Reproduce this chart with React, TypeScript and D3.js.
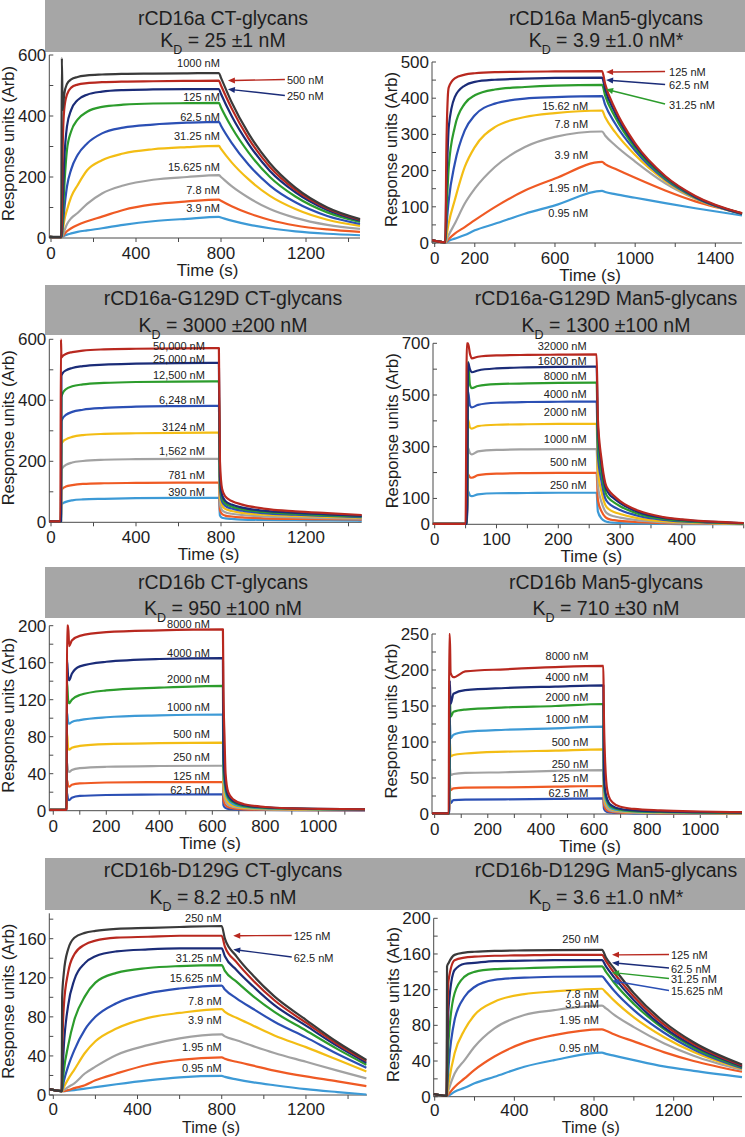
import React from 'react';
import * as d3 from 'd3';

const FONT = '"Liberation Sans", Arial, Helvetica, sans-serif';

// ---------- rCD16a CT-glycans
const p1Title = 'rCD16a CT-glycans';
const p1Kd = ' = 25 ±1 nM';
const p1Conc = ['1000 nM', '500 nM', '250 nM', '125 nM', '62.5 nM', '31.25 nM', '15.625 nM', '7.8 nM', '3.9 nM'];
const p1Off = 790;
const p1Time = [-8, 48, 51, 55, 62, 75, 95, 125, 170, 240, 340, 480, 640, 790, 800, 850, 930, 1030, 1150, 1300, 1454];
const p1Resp = [
  [4, 4, 590, 420, 470, 505, 520, 528, 533, 536, 538, 539, 540, 541, 525, 445, 342, 245, 165, 100, 62],
  [4, 3, 60, 300, 420, 470, 493, 503, 508, 511, 513, 514, 515, 516, 500, 425, 326, 233, 158, 97, 60],
  [4, 3, 20, 120, 250, 365, 420, 452, 470, 480, 485, 487, 488, 488, 472, 400, 308, 220, 150, 92, 57],
  [4, 3, 10, 60, 160, 288, 350, 388, 414, 430, 437, 441, 442, 443, 428, 363, 280, 200, 136, 84, 53],
  [4, 3, 5, 35, 90, 168, 225, 272, 310, 343, 362, 372, 378, 381, 368, 312, 240, 172, 117, 72, 46],
  [4, 3, 3, 20, 55, 91, 135, 173, 222, 255, 277, 291, 298, 302, 292, 248, 192, 138, 95, 60, 40],
  [4, 3, 3, 8, 22, 45, 65, 82, 112, 146, 172, 191, 200, 206, 200, 170, 132, 95, 66, 43, 30],
  [4, 3, 3, 5, 12, 22, 32, 43, 55, 70, 92, 110, 120, 126, 122, 104, 81, 59, 41, 28, 20],
  [4, 3, 3, 4, 7, 11, 15, 20, 25, 32, 43, 55, 63, 69, 67, 57, 44, 32, 22, 14, 9],
];
const p1XLabels = [0, 400, 800, 1200];
const p1YLabels = [0, 200, 400, 600];

// ---------- rCD16a Man5-glycans
const p2Title = 'rCD16a Man5-glycans';
const p2Kd = ' = 3.9 ±1.0 nM*';
const p2Conc = ['125 nM', '62.5 nM', '31.25 nM', '15.62 nM', '7.8 nM', '3.9 nM', '1.95 nM', '0.95 nM'];
const p2Off = 835;
const p2Time = [-13, 50, 53, 58, 65, 70, 100, 150, 200, 300, 450, 600, 835, 850, 900, 1000, 1150, 1300, 1533];
const p2Resp = [
  [8, 2, 2, 250, 400, 430, 455, 465, 469, 472, 473, 474, 475, 440, 370, 275, 185, 130, 82],
  [8, 2, 2, 150, 260, 320, 403, 435, 445, 451, 454, 456, 457, 425, 360, 270, 183, 128, 81],
  [8, 2, 2, 80, 160, 210, 320, 385, 408, 424, 431, 435, 437, 408, 348, 263, 180, 127, 81],
  [8, 2, 2, 40, 90, 118, 219, 311, 353, 385, 399, 403, 406, 382, 330, 255, 176, 125, 80],
  [8, 2, 2, 15, 40, 55, 118, 210, 265, 320, 348, 359, 366, 348, 306, 243, 172, 123, 80],
  [8, 2, 2, 6, 16, 22, 53, 109, 150, 210, 265, 293, 308, 297, 270, 225, 165, 122, 80],
  [8, 2, 2, 3, 8, 11, 26, 44, 63, 99, 145, 178, 224, 218, 205, 180, 145, 115, 83],
  [8, 2, 2, 2, 4, 6, 12, 22, 35, 53, 81, 104, 144, 141, 135, 125, 110, 96, 76],
];
const p2XLabels = [0, 200, 600, 1000, 1400];
const p2YLabels = [0, 100, 200, 300, 400, 500];

// ---------- rCD16a-G129D CT-glycans
const p3Title = 'rCD16a-G129D CT-glycans';
const p3Kd = ' = 3000 ±200 nM';
const p3Conc = ['50,000 nM', '25,000 nM', '12,500 nM', '6,248 nM', '3124 nM', '1,562 nM', '781 nM', '390 nM'];
const p3Off = 790;
const p3Time = [-8, 44, 47, 49, 55, 70, 100, 150, 250, 400, 600, 790, 795, 805, 820, 850, 900, 1000, 1150, 1300, 1462];
const p3Resp = [
  [3, 3, 600, 540, 545, 552, 558, 563, 567, 569, 570, 571, 200, 110, 85, 70, 58, 45, 36, 30, 24],
  [3, 3, 3, 480, 489, 498, 506, 512, 517, 520, 522, 523, 150, 90, 70, 58, 48, 38, 31, 26, 21],
  [3, 3, 3, 410, 423, 436, 446, 452, 457, 460, 461, 462, 130, 80, 62, 52, 43, 34, 28, 23, 19],
  [3, 3, 3, 330, 341, 352, 362, 369, 375, 379, 381, 382, 110, 68, 54, 45, 38, 30, 25, 21, 17],
  [3, 3, 3, 255, 264, 272, 280, 286, 290, 292, 293, 294, 85, 55, 44, 37, 31, 25, 21, 18, 15],
  [3, 3, 3, 170, 179, 188, 196, 201, 205, 207, 208, 208, 60, 40, 33, 28, 24, 19, 16, 14, 12],
  [3, 3, 3, 105, 111, 117, 122, 126, 128, 129, 130, 130, 40, 27, 22, 19, 16, 13, 11, 10, 9],
  [3, 3, 3, 58, 62, 67, 72, 75, 77, 79, 80, 80, 22, 15, 13, 11, 9, 8, 7, 6, 5],
];
const p3XLabels = [0, 400, 800, 1200];
const p3YLabels = [0, 200, 400, 600];

// ---------- rCD16a-G129D Man5-glycans
const p4Title = 'rCD16a-G129D Man5-glycans';
const p4Kd = ' = 1300 ±100 nM';
const p4Conc = ['32000 nM', '16000 nM', '8000 nM', '4000 nM', '2000 nM', '1000 nM', '500 nM', '250 nM'];
const p4Off = 262;
const p4Time = [-3, 50, 52, 54, 57, 60, 70, 100, 150, 200, 262, 264, 270, 276, 282, 290, 300, 330, 370, 400, 450, 500];
const p4Resp = [
  [2, 2, 700, 700, 660, 642, 648, 653, 655, 656, 657, 410, 250, 160, 130, 110, 90, 52, 28, 19, 10, 5],
  [2, 2, 2, 625, 600, 588, 595, 603, 607, 609, 610, 380, 230, 145, 118, 100, 82, 47, 25, 17, 9, 4],
  [2, 2, 2, 628, 540, 527, 535, 542, 545, 547, 548, 320, 200, 125, 100, 85, 70, 40, 21, 14, 7, 3],
  [2, 2, 2, 514, 460, 452, 462, 470, 473, 474, 475, 270, 165, 100, 80, 67, 55, 32, 17, 11, 6, 3],
  [2, 2, 2, 405, 375, 370, 380, 385, 387, 388, 388, 210, 125, 75, 58, 48, 40, 23, 12, 8, 4, 2],
  [2, 2, 2, 295, 275, 270, 282, 288, 290, 291, 291, 150, 85, 50, 38, 31, 26, 15, 8, 5, 3, 2],
  [2, 2, 2, 193, 182, 180, 190, 196, 198, 199, 199, 95, 50, 28, 20, 16, 13, 8, 4, 3, 2, 1],
  [2, 2, 2, 128, 112, 109, 116, 120, 121, 122, 122, 50, 22, 12, 8, 6, 5, 3, 2, 1, 1, 1],
];
const p4XLabels = [0, 100, 200, 300, 400];
const p4YLabels = [0, 100, 300, 500, 700];

// ---------- rCD16b CT-glycans
const p5Title = 'rCD16b CT-glycans';
const p5Kd = ' = 950 ±100 nM';
const p5Conc = ['8000 nM', '4000 nM', '2000 nM', '1000 nM', '500 nM', '250 nM', '125 nM', '62.5 nM'];
const p5Off = 640;
const p5Time = [-15, 48, 50, 52, 56, 60, 70, 100, 200, 400, 640, 642, 646, 650, 660, 680, 720, 800, 900, 1000, 1176];
const p5Resp = [
  [1, 1, 2, 200, 200, 178, 184, 189, 193, 195, 196, 130, 80, 40, 20, 12, 7, 4, 2.5, 2, 1.5],
  [1, 1, 1, 163, 145, 141, 148, 156, 161, 164, 165, 60, 40, 28, 16, 10, 6, 3.5, 2.5, 2, 1.5],
  [1, 1, 1, 139, 120, 116, 120, 125, 130, 133, 135, 50, 34, 24, 14, 9, 5, 3, 2.2, 1.8, 1.3],
  [1, 1, 1, 106, 96, 94, 96, 98, 101, 103, 104, 40, 28, 20, 12, 7, 4, 2.5, 2, 1.5, 1],
  [1, 1, 1, 84, 68, 66, 68, 70, 72, 73, 73.5, 30, 20, 14, 9, 5, 3, 2, 1.5, 1.2, 1],
  [1, 1, 1, 52, 43, 42, 44, 46, 47.5, 48.3, 48.6, 20, 14, 10, 6, 4, 2.5, 1.5, 1.2, 1, 0.8],
  [1, 1, 1, 33, 27, 26, 28, 29.5, 30.5, 31, 31, 12, 8, 6, 4, 2.5, 1.5, 1, 0.8, 0.6, 0.5],
  [1, 1, 1, 19, 12, 11.5, 14, 16, 17, 17.5, 17.7, 6, 4, 3, 2, 1.5, 1, 0.8, 0.6, 0.5, 0.4],
];
const p5XLabels = [0, 200, 400, 600, 800, 1000];
const p5YLabels = [0, 40, 80, 120, 160, 200];

// ---------- rCD16b Man5-glycans
const p6Title = 'rCD16b Man5-glycans';
const p6Kd = ' = 710 ±30 nM';
const p6Conc = ['8000 nM', '4000 nM', '2000 nM', '1000 nM', '500 nM', '250 nM', '125 nM', '62.5 nM'];
const p6Off = 635;
const p6Time = [-10, 53, 55, 57, 60, 71, 115, 266, 454, 635, 637, 641, 646, 655, 670, 700, 750, 850, 1000, 1157];
const p6Resp = [
  [1, 1, 250, 250, 196, 190, 198, 201, 204, 205.6, 140, 80, 45, 25, 16, 10, 7, 5, 3.5, 2.5],
  [1, 1, 1, 185, 153, 167, 172, 175, 177, 178.7, 55, 35, 25, 16, 11, 7, 5, 3.5, 2.5, 2],
  [1, 1, 1, 165, 135, 142, 145, 148, 150, 152.8, 48, 30, 22, 14, 9, 6, 4, 3, 2, 1.5],
  [1, 1, 1, 130, 105, 110, 114, 117, 119, 121.3, 40, 25, 18, 11, 7, 5, 3.5, 2.5, 1.8, 1.3],
  [1, 1, 1, 103, 80, 82, 84, 86.6, 88, 89.8, 32, 20, 14, 9, 6, 4, 3, 2, 1.5, 1],
  [1, 1, 1, 66, 54, 55.5, 57, 58, 60, 61, 22, 14, 10, 6, 4, 3, 2, 1.5, 1, 0.8],
  [1, 1, 1, 42, 33, 35.6, 36.5, 37, 38, 38.9, 14, 9, 6, 4, 3, 2, 1.5, 1, 0.8, 0.6],
  [1, 1, 1, 24, 15, 19.4, 20, 20.4, 21, 21.8, 8, 5, 3.5, 2.5, 2, 1.5, 1, 0.8, 0.6, 0.5],
];
const p6XLabels = [0, 200, 400, 600, 800, 1000];
const p6YLabels = [0, 50, 100, 150, 200, 250];

// ---------- rCD16b-D129G CT-glycans
const p7Title = 'rCD16b-D129G CT-glycans';
const p7Kd = ' = 8.2 ±0.5 nM';
const p7Conc = ['250 nM', '125 nM', '62.5 nM', '31.25 nM', '15.625 nM', '7.8 nM', '3.9 nM', '1.95 nM', '0.95 nM'];
const p7Off = 800;
const p7Time = [-19, 38, 40, 42, 50, 70, 100, 150, 200, 300, 450, 600, 800, 815, 870, 950, 1050, 1200, 1350, 1487];
const p7Resp = [
  [6, 4, 4, 100, 125, 149, 161, 166, 168, 170, 171, 172, 173, 160, 142, 122, 101, 77, 54, 36],
  [6, 4, 4, 40, 91, 125, 144, 154, 158, 161, 162, 163, 163, 152, 136, 117, 97, 74, 52, 35],
  [6, 4, 4, 15, 50, 91, 118, 135, 142, 147, 149, 150, 150, 142, 128, 111, 92, 71, 50, 33],
  [6, 4, 4, 8, 25, 50, 77, 101, 115, 125, 130, 132, 133, 127, 116, 101, 85, 66, 47, 31],
  [6, 4, 4, 5, 14, 29, 46, 67, 80, 94, 104, 109, 112, 108, 99, 88, 75, 59, 42, 28],
  [6, 4, 4, 4, 8, 16, 26, 43, 55, 68, 79, 84, 88, 85, 79, 71, 61, 49, 36, 24],
  [6, 4, 4, 4, 5, 8, 12, 22, 29, 41, 51, 58, 62, 60, 56, 50, 43, 34, 25, 17],
  [6, 4, 4, 4, 4, 5, 7, 10, 15, 22, 31, 36, 38.6, 37, 34, 30, 25, 19, 14, 9],
  [6, 4, 4, 4, 4, 4.5, 5, 6.5, 8, 11, 15, 18, 19.5, 18.5, 16, 13, 10, 6, 3, 0.5],
];
const p7XLabels = [0, 400, 800, 1200];
const p7YLabels = [0, 40, 80, 120, 160];

// ---------- rCD16b-D129G Man5-glycans
const p8Title = 'rCD16b-D129G Man5-glycans';
const p8Kd = ' = 3.6 ±1.0 nM*';
const p8Conc = ['250 nM', '125 nM', '62.5 nM', '31.25 nM', '15.625 nM', '7.8 nM', '3.9 nM', '1.95 nM', '0.95 nM'];
const p8Off = 840;
const p8Time = [-5, 58, 60, 62, 70, 100, 150, 200, 300, 450, 600, 840, 860, 900, 1000, 1150, 1300, 1543];
const p8Resp = [
  [3, 1, 1, 146, 150, 159, 161.5, 162.5, 163.5, 164, 164.3, 164.5, 156, 144, 116, 84, 61, 36],
  [3, 1, 1, 60, 131, 153, 156, 157, 158, 158.5, 159, 159, 152, 139, 112, 81, 59, 35],
  [3, 1, 1, 30, 101, 142, 149, 150, 152, 152.5, 153, 153, 146, 134, 108, 78, 57, 34],
  [3, 1, 1, 15, 64, 116, 134.6, 140, 143, 144, 145, 146, 140, 128, 104, 76, 55, 33],
  [3, 1, 1, 8, 35, 86, 112, 123, 131, 133.5, 134.5, 135, 130, 119, 97, 72, 53, 32],
  [3, 1, 1, 3, 15, 48.6, 75, 91.6, 106.5, 115, 118, 121, 117, 108, 89, 67, 50, 31],
  [3, 1, 1, 2, 8, 26, 41, 56, 76.6, 91.6, 97, 102, 99, 92, 78, 60, 46, 30],
  [3, 1, 1, 1, 3, 11, 20.5, 30, 45, 60.6, 69, 75.5, 74, 70, 62, 50, 40, 28],
  [3, 1, 1, 1, 1.5, 5.6, 10, 15, 22.4, 33.6, 41, 49.3, 48, 46, 41, 34, 29, 22],
];
const p8XLabels = [0, 400, 800, 1200];
const p8YLabels = [0, 40, 80, 120, 160, 200];

// ---------- colours
const charcoal = '#3a3a3a';
const red = '#b8281f';
const navy = '#1b2c78';
const green = '#2c9c2c';
const blue = '#2b4fb4';
const gold = '#f3bd14';
const gray = '#a2a2a2';
const orange = '#ef5a24';
const sky = '#3d9ad6';
const nine = [charcoal, red, navy, green, blue, gold, gray, orange, sky];
const eightA = [red, navy, green, blue, gold, gray, orange, sky];
const eightB = [red, navy, green, sky, gold, gray, orange, blue];

type Arrow = { i: number; hy: number; ly: number };
type Spec = {
  title: string; kd: string; conc: string[]; time: number[]; resp: number[][]; off: number;
  xLabels: number[]; yLabels: number[]; colors: string[];
  box: { l: number; r: number; t: number; b: number };
  xDom: [number, number]; yDom: [number, number]; xStep: number; yStep: number;
  head: { x0: number; x1: number; y: number; h: number; cx: number; t1: number; t2: number };
  lblDx: number; lblDy: (number | null)[];
  arr?: { headDx: number; tailDx: number; textDx: number; list: Arrow[] };
};

const LH = { x0: 45, x1: 372, cx: 223 };
const RH = { x0: 372, x1: 745, cx: 606 };
const rows = [
  { y: 0, h: 52, t1: 25, t2: 47 },
  { y: 285, h: 50, t1: 305, t2: 332 },
  { y: 567, h: 51, t1: 589, t2: 615 },
  { y: 858, h: 52, t1: 877, t2: 904 },
];

const specs: Spec[] = [
  {
    title: p1Title, kd: p1Kd, conc: p1Conc, time: p1Time, resp: p1Resp, off: p1Off,
    xLabels: p1XLabels, yLabels: p1YLabels, colors: nine,
    box: { l: 49.3, r: 360, t: 55, b: 238 }, xDom: [-8, 1454], yDom: [0, 600], xStep: 200, yStep: 100,
    head: { ...LH, ...rows[0] }, lblDx: 1, lblDy: [-6, null, null, -2, -1, -6, -4, -5.5, -5],
    arr: { headDx: 9, tailDx: 66, textDx: 68, list: [{ i: 1, hy: 0, ly: 84 }, { i: 2, hy: 0, ly: 100 }] },
  },
  {
    title: p2Title, kd: p2Kd, conc: p2Conc, time: p2Time, resp: p2Resp, off: p2Off,
    xLabels: p2XLabels, yLabels: p2YLabels, colors: eightA,
    box: { l: 432, r: 742, t: 62, b: 243 }, xDom: [-13.5, 1533], yDom: [0, 500], xStep: 200, yStep: 50,
    head: { ...RH, ...rows[0] }, lblDx: -14, lblDy: [null, null, null, 14, 17, 27.5, 30, 26.5],
    arr: { headDx: 4, tailDx: 63, textDx: 67, list: [{ i: 0, hy: 1, ly: 76 }, { i: 1, hy: 2.5, ly: 89 }, { i: 2, hy: 4.5, ly: 108.5 }] },
  },
  {
    title: p3Title, kd: p3Kd, conc: p3Conc, time: p3Time, resp: p3Resp, off: p3Off,
    xLabels: p3XLabels, yLabels: p3YLabels, colors: eightA,
    box: { l: 49.3, r: 361.7, t: 339.3, b: 522.3 }, xDom: [-8, 1462], yDom: [0, 600], xStep: 200, yStep: 100,
    head: { ...LH, ...rows[1] }, lblDx: -14, lblDy: [2, 0, -2, -2, -2, -4, -4, -1.5],
  },
  {
    title: p4Title, kd: p4Kd, conc: p4Conc, time: p4Time, resp: p4Resp, off: p4Off,
    xLabels: p4XLabels, yLabels: p4YLabels, colors: eightA,
    box: { l: 433, r: 743.7, t: 343.3, b: 524.3 }, xDom: [-2.75, 500], yDom: [0, 700], xStep: 50, yStep: 100,
    head: { ...RH, ...rows[1] }, lblDx: -10, lblDy: [-4, -2, -3, -3, -7.5, -6, -7, -4],
  },
  {
    title: p5Title, kd: p5Kd, conc: p5Conc, time: p5Time, resp: p5Resp, off: p5Off,
    xLabels: p5XLabels, yLabels: p5YLabels, colors: eightB,
    box: { l: 49.3, r: 365, t: 625.7, b: 810.7 }, xDom: [-15, 1176], yDom: [0, 200], xStep: 100, yStep: 20,
    head: { ...LH, ...rows[2] }, lblDx: -13, lblDy: [-1.5, -1.5, -3, -3.5, -4.5, -4.5, -2, 0],
  },
  {
    title: p6Title, kd: p6Kd, conc: p6Conc, time: p6Time, resp: p6Resp, off: p6Off,
    xLabels: p6XLabels, yLabels: p6YLabels, colors: eightB,
    box: { l: 432, r: 742, t: 634, b: 814 }, xDom: [-10, 1157], yDom: [0, 250], xStep: 100, yStep: 25,
    head: { ...RH, ...rows[2] }, lblDx: -15, lblDy: [-6, -4, -3, -4, -3, -2, -3.5, -1.5],
  },
  {
    title: p7Title, kd: p7Kd, conc: p7Conc, time: p7Time, resp: p7Resp, off: p7Off,
    xLabels: p7XLabels, yLabels: p7YLabels, colors: nine,
    box: { l: 49.3, r: 367, t: 913.3, b: 1095 }, xDom: [-19, 1490], yDom: [0, 186], xStep: 200, yStep: 20,
    head: { ...LH, ...rows[3] }, lblDx: 0, lblDy: [-4, null, null, -3, -4, -4, -10, -6, -4],
    arr: { headDx: 11.5, tailDx: 70, textDx: 72, list: [{ i: 1, hy: 0, ly: 940 }, { i: 2, hy: 1, ly: 961.5 }] },
  },
  {
    title: p8Title, kd: p8Kd, conc: p8Conc, time: p8Time, resp: p8Resp, off: p8Off,
    xLabels: p8XLabels, yLabels: p8YLabels, colors: nine,
    box: { l: 433.7, r: 742, t: 918.3, b: 1096.7 }, xDom: [-5, 1543], yDom: [0, 200], xStep: 200, yStep: 20,
    head: { ...RH, ...rows[3] }, lblDx: -3, lblDy: [-6.5, null, null, null, null, 9, 2, -5, -1],
    arr: {
      headDx: 10, tailDx: 67, textDx: 69,
      list: [{ i: 1, hy: 0, ly: 959 }, { i: 2, hy: 2.5, ly: 972.5 }, { i: 3, hy: 6, ly: 983 }, { i: 4, hy: 4.5, ly: 995 }],
    },
  },
];

function arrowHead(hx: number, hy: number, tx: number, ty: number, len = 7, w = 3) {
  const a = Math.atan2(hy - ty, hx - tx);
  const bx = hx - len * Math.cos(a);
  const by = hy - len * Math.sin(a);
  const px = -Math.sin(a) * w;
  const py = Math.cos(a) * w;
  return `M${hx},${hy}L${bx + px},${by + py}L${bx - px},${by - py}Z`;
}

function Panel({ s }: { s: Spec }) {
  const x = d3.scaleLinear().domain(s.xDom).range([s.box.l, s.box.r]);
  const y = d3.scaleLinear().domain(s.yDom).range([s.box.b, s.box.t]);
  const line = d3.line<number>()
    .x((_, k) => x(s.time[k]))
    .y(v => y(v))
    .curve(d3.curveMonotoneX);
  const k0 = s.time.indexOf(s.off);
  const xEnd = x(s.off);
  const xTicks = d3.range(0, s.xDom[1] + 0.001, s.xStep);
  const yTicks = d3.range(0, s.yDom[1] + 0.001, s.yStep);
  const axisCol = '#4a4a4a';
  const order = s.resp.map((_, i) => i).reverse();
  const bottomRow = s.box.b > 1000;
  const tickY = s.box.b + (bottomRow ? 19.5 : 21);
  const titleY = bottomRow ? 1133 : s.box.b + 38;

  return (
    <g>
      <rect x={s.head.x0} y={s.head.y} width={s.head.x1 - s.head.x0} height={s.head.h} fill="#a6a6a6" />
      <text x={s.head.cx} y={s.head.t1} textAnchor="middle" fontSize={19.5} fill="#1e1e1e">{s.title}</text>
      <text x={s.head.cx} y={s.head.t2} textAnchor="middle" fontSize={19.5} fill="#1e1e1e">
        K<tspan fontSize={12.5} dy={7}>D</tspan><tspan dy={-7}>{s.kd}</tspan>
      </text>

      {/* axes */}
      <line x1={s.box.l} x2={s.box.l} y1={s.box.b} y2={s.box.t} stroke={axisCol} />
      <line x1={s.box.l} x2={s.box.r} y1={s.box.b} y2={s.box.b} stroke={axisCol} />
      {yTicks.map(v => (
        <line key={'yt' + v} x1={s.box.l} x2={s.box.l + 4} y1={y(v)} y2={y(v)} stroke={axisCol} />
      ))}
      {xTicks.map(v => (
        <line key={'xt' + v} x1={x(v)} x2={x(v)} y1={s.box.b} y2={s.box.b + 4} stroke={axisCol} />
      ))}
      {s.yLabels.map(v => (
        <text key={'yl' + v} x={s.box.l - 3} y={y(v)} dy="0.35em" textAnchor="end" fontSize={17} fill="#1e1e1e">{v}</text>
      ))}
      {s.xLabels.map(v => (
        <text key={'xl' + v} x={x(v)} y={tickY} textAnchor="middle" fontSize={17} fill="#1e1e1e">{v}</text>
      ))}
      <text
        transform={`translate(${s.box.l - 35},${(s.box.t + s.box.b) / 2 - 3}) rotate(-90)`}
        textAnchor="middle" fontSize={16.5} fill="#1e1e1e"
      >Response units (Arb)</text>
      <text x={(s.box.l + s.box.r) / 2 + 3} y={titleY} textAnchor="middle"
        fontSize={bottomRow ? 16 : 17} fill="#1e1e1e">Time (s)</text>

      {/* sensorgrams */}
      {order.map(i => (
        <path key={'c' + i} d={line(s.resp[i]) || ''} fill="none" stroke={s.colors[i]}
          strokeWidth={2.2} strokeLinejoin="round" />
      ))}

      {/* inline concentration labels */}
      {s.lblDy.map((dy, i) => dy === null ? null : (
        <text key={'lb' + i} x={xEnd + s.lblDx} y={y(s.resp[i][k0]) + dy} textAnchor="end"
          fontSize={11} fill="#222">{s.conc[i]}</text>
      ))}

      {/* arrow labels */}
      {s.arr && s.arr.list.map(a => {
        const hx = xEnd + s.arr!.headDx;
        const hy = y(s.resp[a.i][k0]) + a.hy;
        const tx = xEnd + s.arr!.tailDx;
        const ty = a.ly - 4.5;
        const ang = Math.atan2(hy - ty, hx - tx);
        return (
          <g key={'ar' + a.i}>
            <line x1={tx} y1={ty} x2={hx - 6 * Math.cos(ang)} y2={hy - 6 * Math.sin(ang)}
              stroke={s.colors[a.i]} strokeWidth={1.4} />
            <path d={arrowHead(hx, hy, tx, ty)} fill={s.colors[a.i]} />
            <text x={xEnd + s.arr!.textDx} y={a.ly} fontSize={11} fill="#222">{s.conc[a.i]}</text>
          </g>
        );
      })}
    </g>
  );
}

export default function App() {
  return (
    <svg width={745} height={1137} fontFamily={FONT}
      style={{ position: 'absolute', left: 0, top: 0, background: '#fff' }}>
      <rect width={745} height={1137} fill="#fff" />
      {specs.map((s, i) => <Panel key={i} s={s} />)}
    </svg>
  );
}
